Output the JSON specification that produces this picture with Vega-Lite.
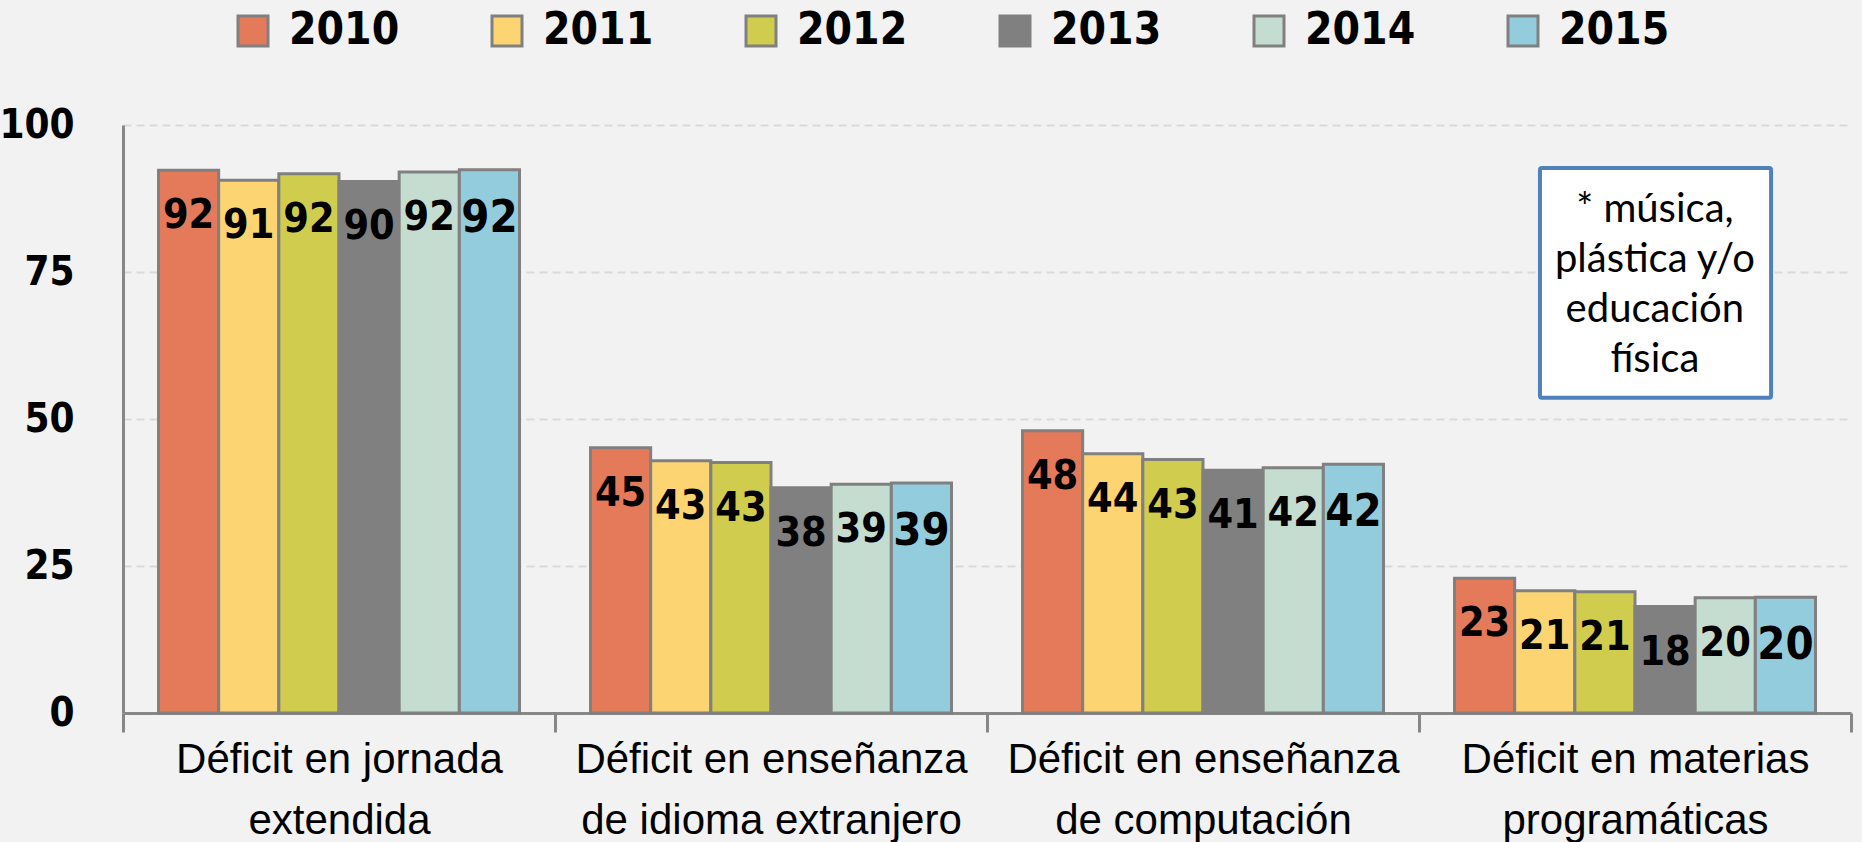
{
  "$schema": "https://vega.github.io/schema/vega-lite/v6.json",
  "width": 1728,
  "height": 588,
  "autosize": {"type": "none"},
  "padding": {"left": 123, "top": 125, "right": 11, "bottom": 129},
  "background": "#F2F2F2",
  "config": {
    "view": {"stroke": null},
    "font": "Liberation Sans"
  },
  "resolve": {"scale": {"x": "independent"}},
  "layer": [
    {
      "data": {
        "values": [
          {"cat": "Déficit en jornada extendida", "year": "2010", "value": 92.3},
          {"cat": "Déficit en jornada extendida", "year": "2011", "value": 90.6},
          {"cat": "Déficit en jornada extendida", "year": "2012", "value": 91.7},
          {"cat": "Déficit en jornada extendida", "year": "2013", "value": 90.4},
          {"cat": "Déficit en jornada extendida", "year": "2014", "value": 92.0},
          {"cat": "Déficit en jornada extendida", "year": "2015", "value": 92.4},
          {"cat": "Déficit en enseñanza de idioma extranjero", "year": "2010", "value": 45.1},
          {"cat": "Déficit en enseñanza de idioma extranjero", "year": "2011", "value": 42.9},
          {"cat": "Déficit en enseñanza de idioma extranjero", "year": "2012", "value": 42.6},
          {"cat": "Déficit en enseñanza de idioma extranjero", "year": "2013", "value": 38.3},
          {"cat": "Déficit en enseñanza de idioma extranjero", "year": "2014", "value": 38.9},
          {"cat": "Déficit en enseñanza de idioma extranjero", "year": "2015", "value": 39.1},
          {"cat": "Déficit en enseñanza de computación", "year": "2010", "value": 48.0},
          {"cat": "Déficit en enseñanza de computación", "year": "2011", "value": 44.1},
          {"cat": "Déficit en enseñanza de computación", "year": "2012", "value": 43.1},
          {"cat": "Déficit en enseñanza de computación", "year": "2013", "value": 41.3},
          {"cat": "Déficit en enseñanza de computación", "year": "2014", "value": 41.7},
          {"cat": "Déficit en enseñanza de computación", "year": "2015", "value": 42.3},
          {"cat": "Déficit en materias programáticas", "year": "2010", "value": 22.9},
          {"cat": "Déficit en materias programáticas", "year": "2011", "value": 20.8},
          {"cat": "Déficit en materias programáticas", "year": "2012", "value": 20.6},
          {"cat": "Déficit en materias programáticas", "year": "2013", "value": 18.1},
          {"cat": "Déficit en materias programáticas", "year": "2014", "value": 19.6},
          {"cat": "Déficit en materias programáticas", "year": "2015", "value": 19.7}
        ]
      },
      "encoding": {
        "x": {
          "field": "cat",
          "type": "nominal",
          "sort": [
            "Déficit en jornada extendida",
            "Déficit en enseñanza de idioma extranjero",
            "Déficit en enseñanza de computación",
            "Déficit en materias programáticas"
          ],
          "scale": {"paddingInner": 0, "paddingOuter": 0},
          "axis": {
            "title": null,
            "labelAngle": 0,
            "tickBand": "extent",
            "ticks": true,
            "tickSize": 19,
            "tickWidth": 3,
            "tickColor": "#878787",
            "domainColor": "#878787",
            "domainWidth": 3,
            "labelFont": "Liberation Sans",
            "labelFontSize": 42,
            "labelColor": "#000000",
            "labelPadding": 7,
            "labelLineHeight": 61,
            "labelLimit": 600,
            "labelExpr": "[join(slice(split(datum.label, ' '), 0, 3), ' '), join(slice(split(datum.label, ' '), 3), ' ')]"
          }
        },
        "y": {
          "field": "value",
          "type": "quantitative",
          "scale": {"domain": [0, 100], "nice": false},
          "axis": {
            "title": null,
            "values": [0, 25, 50, 75, 100],
            "ticks": false,
            "domainColor": "#878787",
            "domainWidth": 3,
            "grid": true,
            "gridColor": "#D9D9D9",
            "gridDash": [8, 5],
            "gridWidth": 2,
            "labelFont": "DejaVu Sans Condensed, sans-serif",
            "labelFontWeight": "bold",
            "labelFontSize": 40,
            "labelColor": "#000000",
            "labelPadding": 49
          }
        }
      },
      "layer": [
        {
          "mark": {"type": "bar", "stroke": "#808080", "strokeWidth": 3},
          "encoding": {
            "xOffset": {
              "field": "year",
              "type": "nominal",
              "scale": {"paddingInner": 0, "paddingOuter": 0.59}
            },
            "color": {
              "field": "year",
              "type": "nominal",
              "scale": {
                "domain": ["2010", "2011", "2012", "2013", "2014", "2015"],
                "range": ["#E57A5A", "#FCD572", "#D0CD4E", "#808080", "#C5DDD0", "#93CDDD"]
              },
              "legend": {
                "title": null,
                "orient": "none",
                "legendX": 108,
                "legendY": -116,
                "direction": "horizontal",
                "columns": 6,
                "gridAlign": "all",
                "columnPadding": 85,
                "padding": 0,
                "symbolType": "square",
                "symbolSize": 900,
                "symbolStrokeColor": "#808080",
                "symbolStrokeWidth": 3,
                "symbolOpacity": 1,
                "labelOffset": 14,
                "labelFont": "DejaVu Sans Condensed, sans-serif",
                "labelFontWeight": "bold",
                "labelFontSize": 44,
                "labelColor": "#000000"
              }
            }
          }
        },
        {
          "mark": {
            "type": "text",
            "baseline": "top",
            "dy": 26,
            "font": "DejaVu Sans Condensed, sans-serif",
            "fontWeight": "bold",
            "color": "#000000"
          },
          "encoding": {
            "xOffset": {
              "field": "year",
              "type": "nominal",
              "scale": {"paddingInner": 0, "paddingOuter": 0.59}
            },
            "text": {"field": "value", "type": "quantitative", "format": ".0f"},
            "size": {
              "condition": {"test": "datum.year == '2015'", "value": 45},
              "value": 41
            }
          }
        },
        {
          "data": {
            "values": [
              {"cat": "Déficit en enseñanza de idioma extranjero"},
              {"cat": "Déficit en enseñanza de computación"},
              {"cat": "Déficit en materias programáticas"}
            ]
          },
          "mark": {"type": "rule", "stroke": "#878787", "strokeWidth": 3},
          "encoding": {
            "x": {"field": "cat", "type": "nominal", "bandPosition": 0},
            "y": {"datum": 0},
            "y2": {"datum": 97.3}
          }
        }
      ]
    },
    {
      "data": {"values": [{"note": "* música,\nplástica y/o\neducación\nfísica"}]},
      "layer": [
        {
          "mark": {"type": "rect", "fill": "#FFFFFF", "stroke": "#4F81BD", "strokeWidth": 4, "cornerRadius": 2},
          "encoding": {
            "x": {"datum": 3.28, "type": "quantitative", "scale": {"domain": [0, 4], "nice": false}, "axis": null},
            "x2": {"datum": 3.815},
            "y": {"datum": 92.7, "type": "quantitative"},
            "y2": {"datum": 53.6}
          }
        },
        {
          "mark": {
            "type": "text",
            "align": "center",
            "baseline": "top",
            "lineBreak": "\n",
            "lineHeight": 50,
            "font": "Lato",
            "fontSize": 40,
            "color": "#000000"
          },
          "encoding": {
            "x": {"datum": 3.546, "type": "quantitative", "scale": {"domain": [0, 4], "nice": false}, "axis": null},
            "y": {"datum": 88.9, "type": "quantitative"},
            "text": {"field": "note", "type": "nominal"}
          }
        }
      ]
    }
  ]
}
